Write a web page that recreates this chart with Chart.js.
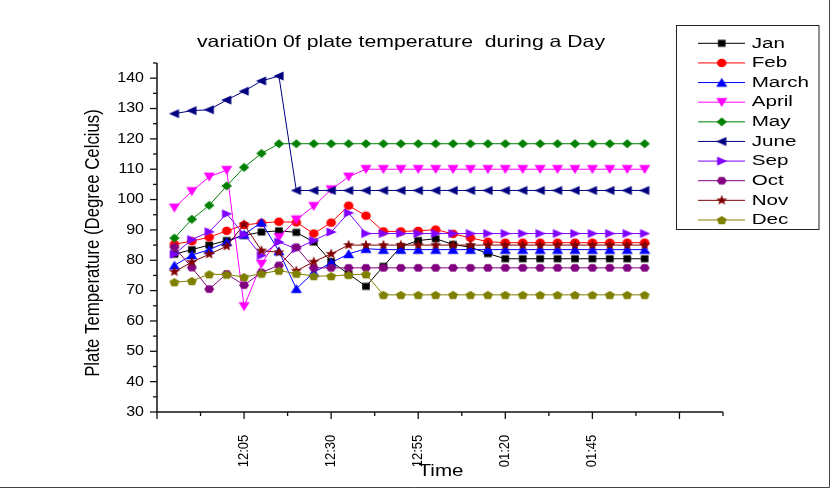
<!DOCTYPE html>
<html>
<head>
<meta charset="utf-8">
<script src="https://cdn.jsdelivr.net/npm/chart.js@4/dist/chart.umd.min.js"></script>
<style>
  html, body { margin: 0; padding: 0; background: #fff; }
  canvas { display: block; }
</style>
</head>
<body>
<canvas id="chart" width="833" height="491"></canvas>
<script>
// Reading times (every 5 minutes)
const times = ["11:45","11:50","11:55","12:00","12:05","12:10","12:15","12:20","12:25","12:30",
               "12:35","12:40","12:45","12:50","12:55","01:00","01:05","01:10","01:15","01:20",
               "01:25","01:30","01:35","01:40","01:45","01:50","01:55","02:00"];

// Plate temperature (°C) per month
const jan   = [82.0, 83.5, 85.0, 86.5, 88.2, 89.3, 89.7, 89.2, 86.0, 79.6, 75.5, 71.4, 78.0, 84.5, 86.5, 87.1, 85.2, 84.3, 82.2, 80.5, 80.5, 80.5, 80.5, 80.5, 80.5, 80.5, 80.5, 80.5];
const feb   = [85.3, 86.3, 87.6, 89.7, 91.6, 92.3, 92.7, 92.5, 88.8, 92.4, 98.0, 94.7, 89.5, 89.5, 89.7, 90.1, 88.7, 87.4, 86.1, 85.8, 85.8, 85.8, 85.8, 85.8, 85.8, 85.8, 85.8, 85.8];
const march = [78.3, 81.7, 83.5, 86.0, 88.5, 92.5, 83.0, 70.6, 76.0, 79.2, 82.1, 83.8, 83.5, 83.5, 83.5, 83.5, 83.5, 83.5, 83.5, 83.5, 83.5, 83.5, 83.5, 83.5, 83.5, 83.5, 83.5, 83.5];
const april = [97.3, 102.7, 107.5, 109.7, 64.8, 78.8, 87.6, 93.4, 97.8, 103.3, 107.5, 110.0, 110.0, 110.0, 110.0, 110.0, 110.0, 110.0, 110.0, 110.0, 110.0, 110.0, 110.0, 110.0, 110.0, 110.0, 110.0, 110.0];
const may   = [87.3, 93.5, 98.1, 104.5, 110.6, 115.2, 118.4, 118.4, 118.4, 118.4, 118.4, 118.4, 118.4, 118.4, 118.4, 118.4, 118.4, 118.4, 118.4, 118.4, 118.4, 118.4, 118.4, 118.4, 118.4, 118.4, 118.4, 118.4];
const june  = [128.3, 129.3, 129.6, 132.8, 135.7, 139.1, 140.7, 103.0, 103.0, 103.0, 103.0, 103.0, 103.0, 103.0, 103.0, 103.0, 103.0, 103.0, 103.0, 103.0, 103.0, 103.0, 103.0, 103.0, 103.0, 103.0, 103.0, 103.0];
const sep   = [82.0, 86.8, 89.4, 95.3, 88.5, 81.6, 86.0, 83.8, 86.5, 89.3, 95.6, 88.8, 88.8, 88.8, 88.8, 88.8, 88.8, 88.8, 88.8, 88.8, 88.8, 88.8, 88.8, 88.8, 88.8, 88.8, 88.8, 88.8];
const oct   = [84.3, 77.6, 70.5, 75.5, 71.8, 76.0, 78.3, 84.3, 77.5, 77.5, 77.5, 77.5, 77.5, 77.5, 77.5, 77.5, 77.5, 77.5, 77.5, 77.5, 77.5, 77.5, 77.5, 77.5, 77.5, 77.5, 77.5, 77.5];
const nov   = [76.2, 79.4, 82.0, 84.6, 91.8, 83.2, 82.6, 76.5, 79.5, 82.1, 85.0, 85.0, 85.0, 85.0, 85.0, 85.0, 85.0, 85.0, 85.0, 85.0, 85.0, 85.0, 85.0, 85.0, 85.0, 85.0, 85.0, 85.0];
const dec   = [72.8, 73.2, 75.4, 75.3, 74.5, 75.6, 76.6, 75.6, 74.8, 74.8, 75.2, 75.4, 68.6, 68.6, 68.6, 68.6, 68.6, 68.6, 68.6, 68.6, 68.6, 68.6, 68.6, 68.6, 68.6, 68.6, 68.6, 68.6];

const seriesNames = ["Jan", "Feb", "March", "April", "May", "June", "Sep", "Oct", "Nov", "Dec"];
const seriesValues = [jan, feb, march, april, may, june, sep, oct, nov, dec];

// Axis ticks
const yTickValues = [30, 40, 50, 60, 70, 80, 90, 100, 110, 120, 130, 140];
const xTickLabels = ["12:05", "12:30", "12:55", "01:20", "01:45"];

const chartTitle = "variati0n 0f plate temperature  during a Day";
const xTitle = "Time";
const yTitle = "Plate Temperature (Degree Celcius)";

// Clock time -> minutes after 11:40 (afternoon hours written 01, 02 ...)
function toMinutes(t) {
  let [h, m] = t.split(":").map(Number);
  if (h < 11) h += 12;
  return h * 60 + m - (11 * 60 + 40);
}

// ---- marker shapes ----
const seriesColors = ["#000000", "#FF0000", "#0000FF", "#FF00FF", "#008000",
                      "#000080", "#8000FF", "#800080", "#800000", "#808000"];

function poly(ctx, pts) {
  ctx.beginPath();
  ctx.moveTo(pts[0][0], pts[0][1]);
  for (let i = 1; i < pts.length; i++) ctx.lineTo(pts[i][0], pts[i][1]);
  ctx.closePath();
  ctx.fill();
}
const shapes = [
  ctx => { ctx.fillRect(-3.8, -3.5, 7.6, 7); },                               // square
  ctx => { ctx.beginPath(); ctx.ellipse(0, 0, 4.8, 4.3, 0, 0, Math.PI * 2); ctx.fill(); }, // circle
  ctx => poly(ctx, [[0, -4.8], [5.6, 4.2], [-5.6, 4.2]]),                     // up triangle
  ctx => poly(ctx, [[-5.6, -4.2], [5.6, -4.2], [0, 4.8]]),                    // down triangle
  ctx => poly(ctx, [[0, -4.6], [5.2, 0], [0, 4.6], [-5.2, 0]]),               // diamond
  ctx => poly(ctx, [[-5.6, 0], [4.6, -4.6], [4.6, 4.6]]),                     // left triangle
  ctx => poly(ctx, [[5.6, 0], [-4.6, -4.6], [-4.6, 4.6]]),                    // right triangle
  ctx => { const p = []; for (let k = 0; k < 6; k++) { const a = k * Math.PI / 3; p.push([5 * Math.cos(a), 4.3 * Math.sin(a)]); } poly(ctx, p); }, // hexagon
  ctx => { const p = []; for (let k = 0; k < 10; k++) { const a = -Math.PI / 2 + k * Math.PI / 5; const r = k % 2 ? 2.3 : 5.4; p.push([r * 1.1 * Math.cos(a), r * Math.sin(a)]); } poly(ctx, p); }, // star
  ctx => { const p = []; for (let k = 0; k < 5; k++) { const a = -Math.PI / 2 + k * 2 * Math.PI / 5; p.push([5.2 * Math.cos(a), 4.6 * Math.sin(a) + 0.5]); } poly(ctx, p); } // pentagon
];

function makeMarker(color, shape) {
  const c = document.createElement("canvas");
  c.width = 16; c.height = 16;
  const g = c.getContext("2d");
  g.translate(8, 8);
  g.fillStyle = color;
  shape(g);
  return c;
}
const markers = seriesColors.map((col, i) => makeMarker(col, shapes[i]));

// ---- text helper: font size plus horizontal (or thickness) stretch ----
function label(ctx, text, x, y, opt) {
  ctx.save();
  ctx.font = opt.size + "px 'Liberation Sans', Arial, sans-serif";
  ctx.fillStyle = "#000";
  ctx.textAlign = opt.align || "center";
  ctx.textBaseline = "middle";
  ctx.translate(x, y);
  if (opt.rot) ctx.rotate(opt.rot);
  let sx = opt.sx || 1;
  if (opt.width) sx = opt.width / ctx.measureText(text).width;
  ctx.scale(sx, opt.thick || 1);
  ctx.fillText(text, 0, 0);
  ctx.restore();
}

const originAxes = {
  id: "originAxes",
  afterDatasetsDraw(chart) {
    const ctx = chart.ctx;
    const xs = chart.scales.x, ys = chart.scales.y;
    const L = chart.chartArea.left, R = chart.chartArea.right;
    const T = chart.chartArea.top, B = chart.chartArea.bottom;
    ctx.save();
    ctx.strokeStyle = "#111";
    ctx.lineWidth = 1.5;
    // axis lines
    ctx.beginPath();
    ctx.moveTo(L, T); ctx.lineTo(L, B); ctx.lineTo(R, B);
    ctx.stroke();
    // y ticks (major every 10, minor every 5)
    ctx.lineWidth = 1.3;
    for (let v = ys.min; v <= ys.max + 0.01; v += 5) {
      const py = ys.getPixelForValue(v);
      const major = v % 10 === 0;
      ctx.beginPath(); ctx.moveTo(L, py); ctx.lineTo(L - (major ? 7 : 4), py); ctx.stroke();
    }
    yTickValues.forEach(v => label(ctx, String(v), 144, ys.getPixelForValue(v), { size: 14, align: "right", sx: 1.14 }));
    // x ticks (major every 25 min, minor every 12.5 min)
    for (let m = xs.min; m <= xs.max + 0.01; m += 12.5) {
      const px = xs.getPixelForValue(m);
      const major = m % 25 === 0;
      ctx.beginPath(); ctx.moveTo(px, B); ctx.lineTo(px, B + (major ? 7 : 4)); ctx.stroke();
    }
    xTickLabels.forEach(t => label(ctx, t, xs.getPixelForValue(toMinutes(t)), 451,
      { size: 13, rot: -Math.PI / 2, thick: 1.15 }));
    // titles
    label(ctx, chartTitle, 401, 42, { size: 16.5, width: 408 });
    label(ctx, xTitle, 441, 471, { size: 17, width: 45 });
    label(ctx, yTitle, 93, 243, { size: 16.8, rot: -Math.PI / 2, thick: 1.2 });

    // legend box
    ctx.lineWidth = 1;
    ctx.strokeStyle = "#222";
    ctx.strokeRect(676.5, 25.5, 142.5, 204);
    seriesNames.forEach((name, i) => {
      const y = 43.3 + i * 19.63;
      ctx.strokeStyle = seriesColors[i];
      ctx.lineWidth = 1;
      ctx.beginPath(); ctx.moveTo(698, y); ctx.lineTo(745, y); ctx.stroke();
      ctx.drawImage(markers[i], 721.7 - 8, y - 8);
      label(ctx, name, 751.7, y, { size: 15.5, align: "left", sx: 1.33 });
    });

    // picture frame (right and bottom edges)
    ctx.strokeStyle = "#444";
    ctx.beginPath();
    ctx.moveTo(829.5, 0); ctx.lineTo(829.5, 487.5); ctx.lineTo(0, 487.5);
    ctx.stroke();
    ctx.restore();
  }
};

const datasets = seriesNames.map((name, i) => ({
  label: name,
  data: seriesValues[i].map((v, k) => ({ x: toMinutes(times[k]), y: v })),
  borderColor: seriesColors[i],
  backgroundColor: seriesColors[i],
  borderWidth: 1,
  pointStyle: markers[i],
  pointRadius: 5,
  pointHoverRadius: 5,
  tension: 0,
  order: seriesNames.length - i
}));

new Chart(document.getElementById("chart"), {
  type: "line",
  data: { datasets },
  options: {
    responsive: false,
    animation: false,
    events: [],
    layout: { padding: { left: 157, right: 110, top: 63, bottom: 79 } },
    scales: {
      x: { type: "linear", min: 0, max: 162.5, display: false },
      y: { type: "linear", min: 30, max: 145, display: false }
    },
    plugins: { legend: { display: false }, title: { display: false }, tooltip: { enabled: false } }
  },
  plugins: [originAxes]
});
</script>
</body>
</html>
